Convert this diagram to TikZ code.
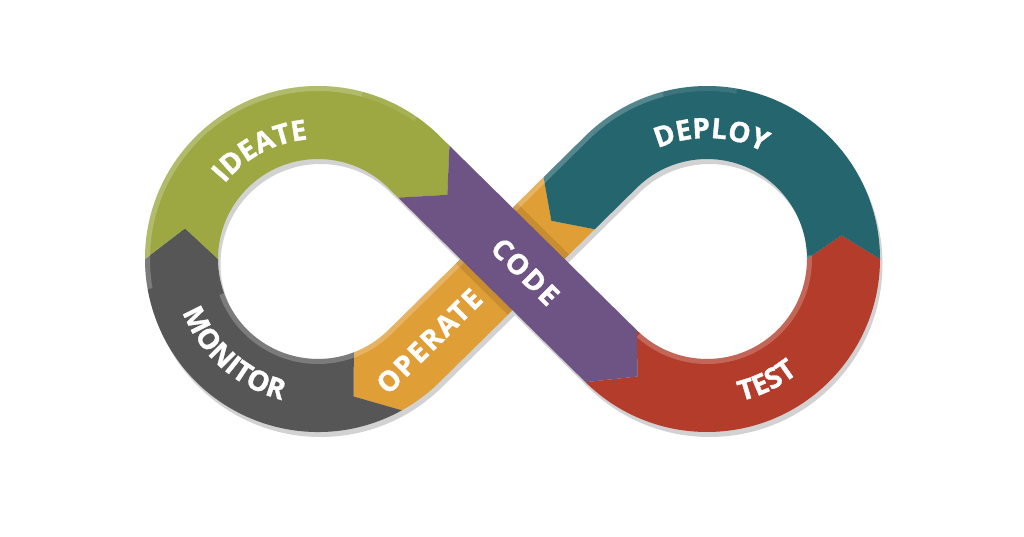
\documentclass[tikz,border=0pt]{standalone}
\usepackage{fontspec}
\setmainfont{Open Sans}
\newfontfamily\lblfont{Open Sans}[BoldFeatures={FakeBold=1.2}, LetterSpace=7]
\usepackage{tikz}
\usepackage{xcolor}
\usetikzlibrary{calc,decorations.text}
\definecolor{ideategreen}{HTML}{9DA842}
\definecolor{codepurple}{HTML}{6E5484}
\definecolor{testred}{HTML}{B33C2A}
\definecolor{deployteal}{HTML}{25656E}
\definecolor{operateorange}{HTML}{E09E37}
\definecolor{monitorgray}{HTML}{565656}
\definecolor{shadowgray}{HTML}{D2D2D2}
\tikzset{
  lbl/.style={text=white, font=\lblfont\bfseries\fontsize{28}{30}\selectfont, inner sep=0pt},
  arclbl/.style={decorate, decoration={text along path, text align=center, text color=white,
    text={|\lblfont\bfseries\fontsize{28}{30}\selectfont|#1}}},
  shine/.style={line width=5pt, white, opacity=.22},
}

\begin{document}
\begin{tikzpicture}[x=1pt,y=1pt]
  \useasboundingbox (0,0) rectangle (1024,536);
  \coordinate (L) at (318,277);
  \coordinate (R) at (707,277);
  \coordinate (M) at (512.5,277);
  % shadow of the whole loop
  \begin{scope}[transform canvas={shift={(2.5pt,-5pt)}}]
    \draw[shadowgray, line width=73pt] ($(L)+(45.4:136.5)$) -- ($(R)+(225.4:136.5)$)
      arc[start angle=225.4, end angle=494.6, radius=136.5] -- ($(L)+(-45.4:136.5)$)
      arc[start angle=-45.4, end angle=-314.6, radius=136.5] -- cycle;
  \end{scope}
  % operate
  \fill[operateorange] ($(R)+(134.6:173)+(224.6:59)$) -- ($(L)+(-45.4:100)$)
    arc[start angle=-45.4, end angle=-69, radius=100] -- ($(L)+(-75.5:142)$)
    -- ($(L)+(-61:173)$) arc[start angle=-61, end angle=-45.4, radius=173]
    -- ($(R)+(134.6:100)+(224.6:59)$) -- ($(R)+(134.6:136.5)+(224.6:84)$) -- cycle;
  % monitor
  \fill[monitorgray] ($(L)+(-61:173)$) arc[start angle=-61, end angle=-180, radius=173]
    -- ($(L)+(167:136.5)$) -- ($(L)+(180:100)$) arc[start angle=180, end angle=291, radius=100]
    -- ($(L)+(-75.5:142)$) -- cycle;
  % ideate
  \fill[ideategreen] ($(L)+(180:173)$) arc[start angle=180, end angle=45.4, radius=173]
    -- ($(L)+(45.4:173)+(-44.6:14)$) -- ($(L)+(45.4:136.5)+(-44.6:47)$)
    -- ($(L)+(45.4:100)+(-44.6:14)$) -- ($(L)+(45.4:100)$)
    arc[start angle=45.4, end angle=180, radius=100] -- ($(L)+(167:136.5)$) -- cycle;
  % test
  \fill[testred] ($(R)+(225.4:173)$) arc[start angle=225.4, end angle=360, radius=173]
    -- ($(R)+(10:136.5)$) -- ($(R)+(0:100)$) arc[start angle=360, end angle=225.4, radius=100]
    -- ($(R)+(239.4:136.5)$) -- cycle;
  % deploy
  \fill[deployteal] ($(R)+(0:173)$) arc[start angle=0, end angle=134.6, radius=173]
    -- ($(R)+(134.6:173)+(224.6:59)$) -- ($(R)+(134.6:136.5)+(224.6:84)$)
    -- ($(R)+(134.6:100)+(224.6:59)$) -- ($(R)+(134.6:100)$)
    arc[start angle=134.6, end angle=0, radius=100] -- ($(R)+(10:136.5)$) -- cycle;
  % light edges
  \draw[shine] ($(L)+(200:102.5)$) arc[start angle=200, end angle=314.6, radius=102.5]
    -- ($(R)+(134.6:170.5)$) arc[start angle=134.6, end angle=105, radius=170.5];
  \draw[shine, opacity=.1] ($(R)+(105:170.5)$) arc[start angle=105, end angle=80, radius=170.5];
  \draw[shine] ($(L)+(190:170.5)$) arc[start angle=190, end angle=75, radius=170.5];
  \draw[shine, opacity=.1] ($(L)+(75:170.5)$) arc[start angle=75, end angle=55, radius=170.5];
  \draw[shine] ($(R)+(228:102.5)$) arc[start angle=228, end angle=362, radius=102.5];
  % code casts a shadow on operate
  \begin{scope}
    \clip ($(L)+(-45.4:100)$) -- ($(L)+(-45.4:173)$) -- ($(R)+(134.6:100)$) -- ($(R)+(134.6:173)$) -- cycle;
    \draw[black, opacity=.1, line width=86pt] ($(L)+(45.4:136.5)$) -- ($(R)+(225.4:136.5)$);
  \end{scope}
  % code
  \fill[codepurple] ($(L)+(45.4:173)+(-44.6:14)$) -- ($(R)+(225.4:100)$) -- ($(R)+(239.4:136.5)$)
    -- ($(R)+(225.4:173)$) -- ($(L)+(45.4:100)+(-44.6:14)$) -- ($(L)+(45.4:136.5)+(-44.6:47)$) -- cycle;
  % labels
  \path[arclbl=IDEATE] ($(L)+(168:120)$) arc[start angle=168, end angle=68, radius=120];
  \path[arclbl=MONITOR] ($(L)+(180:145.5)$) arc[start angle=180, end angle=277, radius=145.5];
  \path[arclbl=DEPLOY] ($(R)+(138:121)$) arc[start angle=138, end angle=38, radius=121];
  \path[arclbl=TEST] ($(R)+(256:146)$) arc[start angle=256, end angle=336, radius=146];
  \node[lbl, rotate=-44.6] (code) at ($(M)+(-44.6:18)$) {CODE};
  \node[lbl, rotate=44.6] (operate) at ($(M)+(224.6:117)$) {OPERATE};
\end{tikzpicture}
\end{document}
